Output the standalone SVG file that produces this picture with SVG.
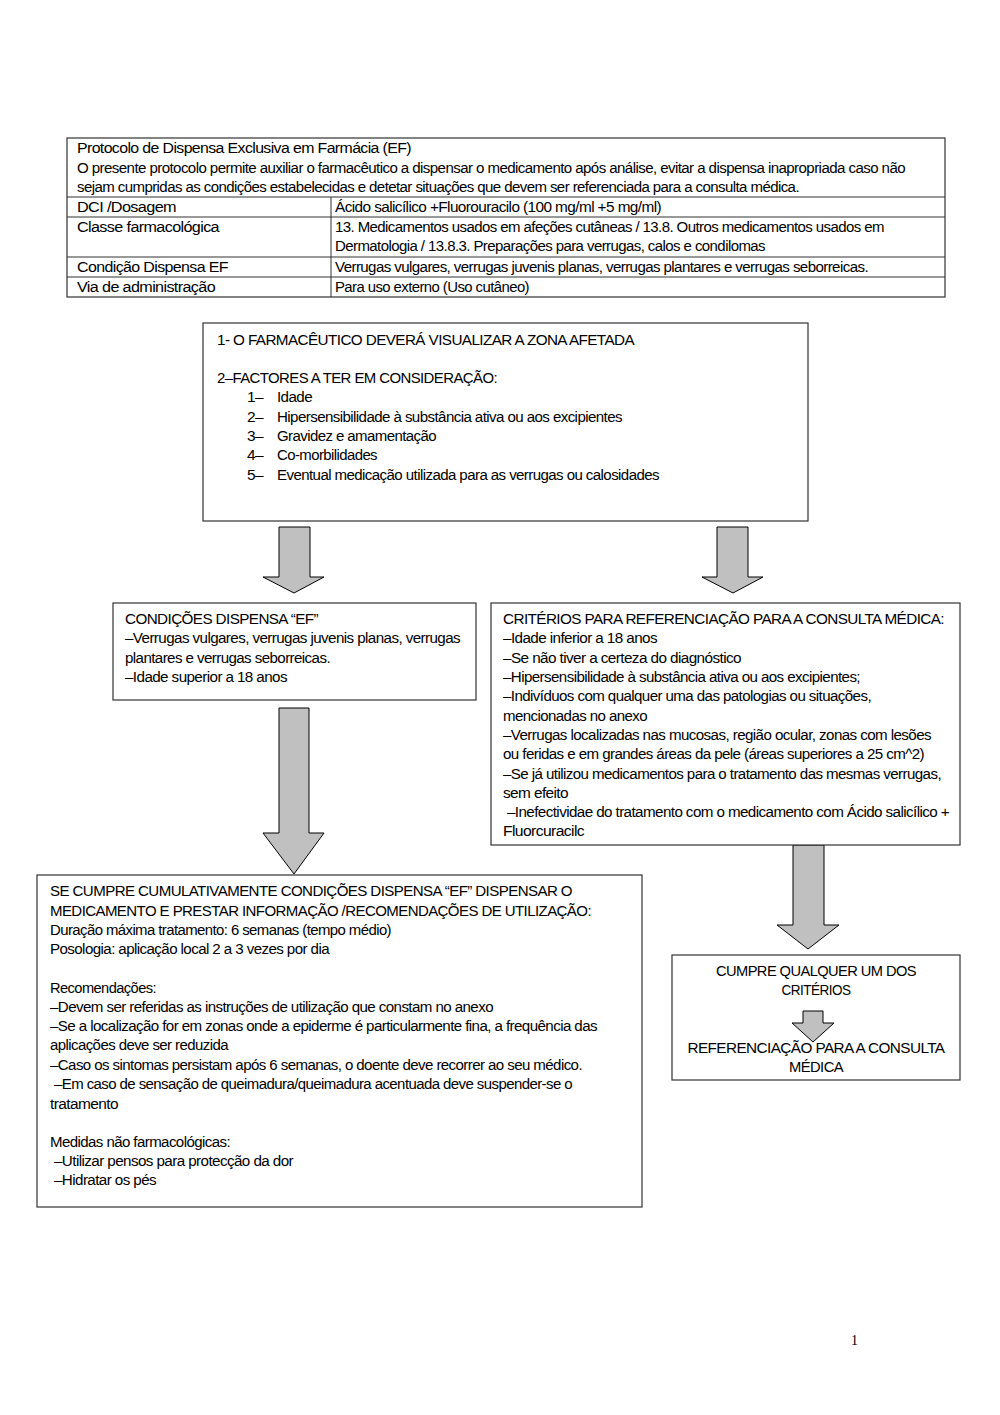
<svg xmlns="http://www.w3.org/2000/svg" width="1000" height="1415" viewBox="0 0 1000 1415">
<style>
text{font-family:"Liberation Sans",Arial,sans-serif;font-size:15.5px;fill:#000;letter-spacing:-0.6px}
.box{fill:#fff;stroke:#333;stroke-width:1.2}
.arr{fill:#c0c0c0;stroke:#000;stroke-width:1}
.c{text-anchor:middle}
</style>
<rect width="1000" height="1415" fill="#fff"/>
<g id="table">
<rect class="box" x="67" y="138" width="878" height="159"/>
<line x1="67" y1="197" x2="945" y2="197" stroke="#333"/>
<line x1="67" y1="217" x2="945" y2="217" stroke="#333"/>
<line x1="67" y1="257" x2="945" y2="257" stroke="#333"/>
<line x1="67" y1="277" x2="945" y2="277" stroke="#333"/>
<line x1="331" y1="197" x2="331" y2="297" stroke="#333"/>
<text x="77" y="153" textLength="334" lengthAdjust="spacingAndGlyphs">Protocolo de Dispensa Exclusiva em Farmácia (EF)</text>
<text x="77" y="173" textLength="828" lengthAdjust="spacingAndGlyphs">O presente protocolo permite auxiliar o farmacêutico a dispensar o medicamento após análise, evitar a dispensa inapropriada caso não</text>
<text x="77" y="192" textLength="722" lengthAdjust="spacingAndGlyphs">sejam cumpridas as condições estabelecidas e detetar situações que devem ser referenciada para a consulta médica.</text>
<text x="77" y="212" textLength="99" lengthAdjust="spacingAndGlyphs">DCI /Dosagem</text>
<text x="335" y="212" textLength="326" lengthAdjust="spacingAndGlyphs">Ácido salicílico +Fluorouracilo (100 mg/ml +5 mg/ml)</text>
<text x="77" y="232" textLength="142" lengthAdjust="spacingAndGlyphs">Classe farmacológica</text>
<text x="335" y="232" textLength="549" lengthAdjust="spacingAndGlyphs">13. Medicamentos usados em afeções cutâneas / 13.8. Outros medicamentos usados em</text>
<text x="335" y="251" textLength="430" lengthAdjust="spacingAndGlyphs">Dermatologia / 13.8.3. Preparações para verrugas, calos e condilomas</text>
<text x="77" y="272" textLength="151" lengthAdjust="spacingAndGlyphs">Condição Dispensa EF</text>
<text x="335" y="272" textLength="533" lengthAdjust="spacingAndGlyphs">Verrugas vulgares, verrugas juvenis planas, verrugas plantares e verrugas seborreicas.</text>
<text x="77" y="292" textLength="138" lengthAdjust="spacingAndGlyphs">Via de administração</text>
<text x="335" y="292" textLength="194" lengthAdjust="spacingAndGlyphs">Para uso externo (Uso cutâneo)</text>
</g>
<g id="connectors">
<polygon class="arr" points="279,527 310,527 310,577 324,577 294,593 263,577 279,577"/>
<polygon class="arr" points="717,527 748,527 748,577 763,577 733,593 702,577 717,577"/>
<polygon class="arr" points="279,708 309,708 309,833 324,833 294,874 263,833 279,833"/>
<polygon class="arr" points="793,845 824,845 824,925 839,925 808,949 777,925 793,925"/>
</g>
<g id="node-factores">
<rect class="box" x="203" y="323" width="605" height="198"/>
<text x="217" y="345" textLength="417" lengthAdjust="spacingAndGlyphs">1- O FARMACÊUTICO DEVERÁ VISUALIZAR A ZONA AFETADA</text>
<text x="217" y="383" textLength="280" lengthAdjust="spacingAndGlyphs">2–FACTORES A TER EM CONSIDERAÇÃO:</text>
<text x="247" y="402">1–</text><text x="277" y="402" textLength="35" lengthAdjust="spacingAndGlyphs">Idade</text>
<text x="247" y="422">2–</text><text x="277" y="422" textLength="345" lengthAdjust="spacingAndGlyphs">Hipersensibilidade à substância ativa ou aos excipientes</text>
<text x="247" y="441">3–</text><text x="277" y="441" textLength="159" lengthAdjust="spacingAndGlyphs">Gravidez e amamentação</text>
<text x="247" y="460">4–</text><text x="277" y="460" textLength="100" lengthAdjust="spacingAndGlyphs">Co-morbilidades</text>
<text x="247" y="480">5–</text><text x="277" y="480" textLength="382" lengthAdjust="spacingAndGlyphs">Eventual medicação utilizada para as verrugas ou calosidades</text>
</g>
<g id="node-condicoes">
<rect class="box" x="113" y="603" width="363" height="97"/>
<text x="125" y="624" textLength="193" lengthAdjust="spacingAndGlyphs">CONDIÇÕES DISPENSA “EF”</text>
<text x="125" y="643" textLength="335" lengthAdjust="spacingAndGlyphs">–Verrugas vulgares, verrugas juvenis planas, verrugas</text>
<text x="125" y="663" textLength="205" lengthAdjust="spacingAndGlyphs">plantares e verrugas seborreicas.</text>
<text x="125" y="682" textLength="162" lengthAdjust="spacingAndGlyphs">–Idade superior a 18 anos</text>
</g>
<g id="node-criterios">
<rect class="box" x="491" y="603" width="469" height="242"/>
<text x="503" y="624" textLength="441" lengthAdjust="spacingAndGlyphs">CRITÉRIOS PARA REFERENCIAÇÃO PARA A CONSULTA MÉDICA:</text>
<text x="503" y="643" textLength="154" lengthAdjust="spacingAndGlyphs">–Idade inferior a 18 anos</text>
<text x="503" y="663" textLength="238" lengthAdjust="spacingAndGlyphs">–Se não tiver a certeza do diagnóstico</text>
<text x="503" y="682" textLength="357" lengthAdjust="spacingAndGlyphs">–Hipersensibilidade à substância ativa ou aos excipientes;</text>
<text x="503" y="701" textLength="368" lengthAdjust="spacingAndGlyphs">–Indivíduos com qualquer uma das patologias ou situações,</text>
<text x="503" y="721" textLength="144" lengthAdjust="spacingAndGlyphs">mencionadas no anexo</text>
<text x="503" y="740" textLength="428" lengthAdjust="spacingAndGlyphs">–Verrugas localizadas nas mucosas, região ocular, zonas com lesões</text>
<text x="503" y="759" textLength="421" lengthAdjust="spacingAndGlyphs">ou feridas e em grandes áreas da pele (áreas superiores a 25 cm^2)</text>
<text x="503" y="779" textLength="438" lengthAdjust="spacingAndGlyphs">–Se já utilizou medicamentos para o tratamento das mesmas verrugas,</text>
<text x="503" y="798" textLength="65" lengthAdjust="spacingAndGlyphs">sem efeito</text>
<text x="507" y="817" textLength="442" lengthAdjust="spacingAndGlyphs">–Inefectividae do tratamento com o medicamento com Ácido salicílico +</text>
<text x="503" y="836" textLength="81" lengthAdjust="spacingAndGlyphs">Fluorcuracilc</text>
</g>
<g id="node-dispensar">
<rect class="box" x="37" y="875" width="605" height="332"/>
<text x="50" y="896" textLength="522" lengthAdjust="spacingAndGlyphs">SE CUMPRE CUMULATIVAMENTE CONDIÇÕES DISPENSA “EF” DISPENSAR O</text>
<text x="50" y="916" textLength="541" lengthAdjust="spacingAndGlyphs">MEDICAMENTO E PRESTAR INFORMAÇÃO /RECOMENDAÇÕES DE UTILIZAÇÃO:</text>
<text x="50" y="935" textLength="341" lengthAdjust="spacingAndGlyphs">Duração máxima tratamento: 6 semanas (tempo médio)</text>
<text x="50" y="954" textLength="279" lengthAdjust="spacingAndGlyphs">Posologia: aplicação local 2 a 3 vezes por dia</text>
<text x="50" y="993" textLength="106" lengthAdjust="spacingAndGlyphs">Recomendações:</text>
<text x="50" y="1012" textLength="443" lengthAdjust="spacingAndGlyphs">–Devem ser referidas as instruções de utilização que constam no anexo</text>
<text x="50" y="1031" textLength="547" lengthAdjust="spacingAndGlyphs">–Se a localização for em zonas onde a epiderme é particularmente fina, a frequência das</text>
<text x="50" y="1050" textLength="178" lengthAdjust="spacingAndGlyphs">aplicações deve ser reduzida</text>
<text x="50" y="1070" textLength="532" lengthAdjust="spacingAndGlyphs">–Caso os sintomas persistam após 6 semanas, o doente deve recorrer ao seu médico.</text>
<text x="54" y="1089" textLength="518" lengthAdjust="spacingAndGlyphs">–Em caso de sensação de queimadura/queimadura acentuada deve suspender-se o</text>
<text x="50" y="1109" textLength="68" lengthAdjust="spacingAndGlyphs">tratamento</text>
<text x="50" y="1147" textLength="180" lengthAdjust="spacingAndGlyphs">Medidas não farmacológicas:</text>
<text x="54" y="1166" textLength="239" lengthAdjust="spacingAndGlyphs">–Utilizar pensos para protecção da dor</text>
<text x="54" y="1185" textLength="102" lengthAdjust="spacingAndGlyphs">–Hidratar os pés</text>
</g>
<g id="node-referenciacao">
<rect class="box" x="672" y="955" width="288" height="125"/>
<text class="c" x="816" y="976" textLength="200" lengthAdjust="spacingAndGlyphs">CUMPRE QUALQUER UM DOS</text>
<text class="c" x="816" y="995" textLength="69" lengthAdjust="spacingAndGlyphs">CRITÉRIOS</text>
<polygon class="arr" points="803,1011 823,1011 823,1023 834,1023 813,1042 792,1023 803,1023"/>
<text class="c" x="816" y="1053" textLength="257" lengthAdjust="spacingAndGlyphs">REFERENCIAÇÃO PARA A CONSULTA</text>
<text class="c" x="816" y="1072" textLength="54" lengthAdjust="spacingAndGlyphs">MÉDICA</text>
</g>
<text x="851" y="1345" style="font-family:'Liberation Serif',serif;font-size:14px;letter-spacing:0">1</text>
</svg>
